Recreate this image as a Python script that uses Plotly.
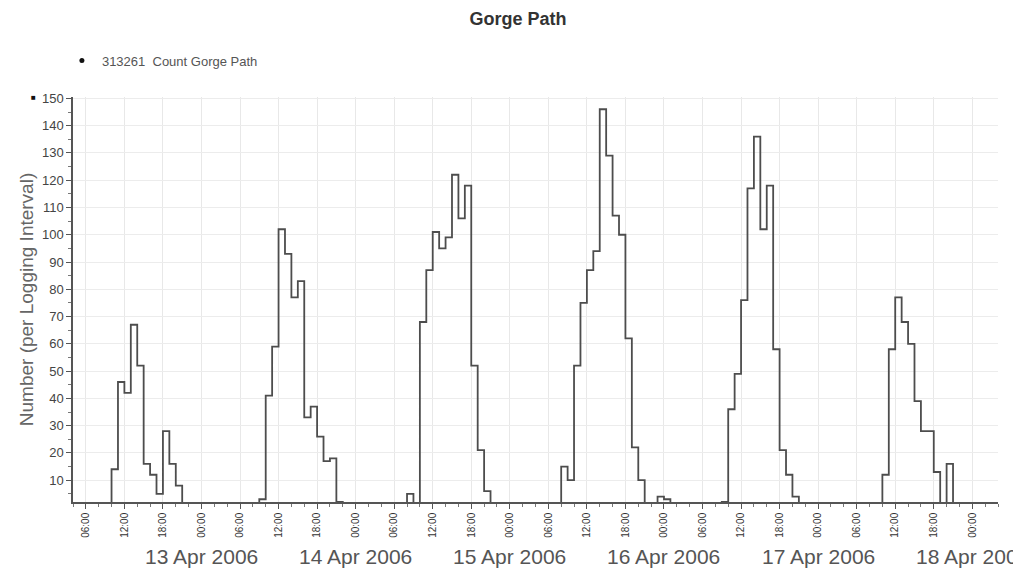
import plotly.graph_objects as go
import pandas as pd

# ---- data: hourly counts (value at start of each hour) ----
day_starts = ["2006-04-12", "2006-04-13", "2006-04-14", "2006-04-15", "2006-04-16", "2006-04-17"]
counts_apr12 = [0, 0, 0, 0, 0, 0, 0, 0, 0, 0, 14, 46, 42, 67, 52, 16, 12, 5, 28, 16, 8, 0, 0, 0]
counts_apr13 = [0, 0, 0, 0, 0, 0, 0, 0, 0, 3, 41, 59, 102, 93, 77, 83, 33, 37, 26, 17, 18, 2, 0, 0]
counts_apr14 = [0, 0, 0, 0, 0, 0, 0, 0, 5, 0, 68, 87, 101, 95, 99, 122, 106, 118, 52, 21, 6, 0, 0, 0]
counts_apr15 = [0, 0, 0, 0, 0, 0, 0, 0, 15, 10, 52, 75, 87, 94, 146, 129, 107, 100, 62, 22, 10, 0, 0, 4]
counts_apr16 = [3, 0, 0, 0, 0, 0, 0, 0, 1, 2, 36, 49, 76, 117, 136, 102, 118, 58, 21, 12, 4, 1, 0, 0]
counts_apr17 = [0, 0, 0, 0, 0, 0, 0, 0, 1, 1, 12, 58, 77, 68, 60, 39, 28, 28, 13, 0, 16, 0, 0, 0]
counts_apr18 = [0, 0, 0, 0, 0]

series_name = "313261  Count Gorge Path"
title_text = "Gorge Path"
y_title = "Number (per Logging Interval)"
y_ticks = [10, 20, 30, 40, 50, 60, 70, 80, 90, 100, 110, 120, 130, 140, 150]
y_minor = [5, 15, 25, 35, 45, 55, 65, 75, 85, 95, 105, 115, 125, 135, 145]
day_labels = ["13 Apr 2006", "14 Apr 2006", "15 Apr 2006", "16 Apr 2006", "17 Apr 2006", "18 Apr 2006"]
day_label_pos = ["2006-04-13", "2006-04-14", "2006-04-15", "2006-04-16", "2006-04-17", "2006-04-18"]

# build the hourly series
all_days = [counts_apr12, counts_apr13, counts_apr14, counts_apr15, counts_apr16, counts_apr17]
times, values = [], []
for d, vals in zip(day_starts, all_days):
    base = pd.Timestamp(d)
    for h, v in enumerate(vals):
        times.append(base + pd.Timedelta(hours=h))
        values.append(v)
base18 = pd.Timestamp("2006-04-18")
for h, v in enumerate(counts_apr18):
    times.append(base18 + pd.Timedelta(hours=h))
    values.append(v)
pairs = [(t, v) for t, v in zip(times, values) if t >= pd.Timestamp("2006-04-12 04:00")]
times = [p[0] for p in pairs]
values = [p[1] for p in pairs]

FONT = "Liberation Sans, Arial, sans-serif"
fig = go.Figure()
fig.add_trace(go.Scatter(
    x=times, y=values, mode="lines", line=dict(shape="hv", color="#4d4d4d", width=1.8),
    showlegend=False, hoverinfo="x+y"))
# legend entry
fig.add_trace(go.Scatter(
    x=[None], y=[None], mode="markers", name=series_name,
    marker=dict(symbol="circle", size=5, color="#111111")))

fig.update_layout(
    width=1013, height=572,
    paper_bgcolor="white", plot_bgcolor="white",
    margin=dict(l=73, r=15, t=97, b=70),
    title=dict(text="<b>" + title_text + "</b>", x=518 / 1013, xref="container", xanchor="center",
               y=1 - 19 / 572, yref="container", yanchor="middle",
               font=dict(family=FONT, size=18, color="#333333")),
    legend=dict(x=-0.012, y=1.09, xanchor="left", yanchor="middle", orientation="h",
                font=dict(family=FONT, size=13, color="#555555"), bgcolor="rgba(0,0,0,0)",
                itemwidth=30),
    font=dict(family=FONT, color="#333333"),
)
fig.update_xaxes(
    type="date", automargin=False,
    range=["2006-04-12 04:00", "2006-04-18 04:00"],
    tick0="2006-04-12 00:00", dtick=6 * 3600 * 1000, tickformat="%H:%M",
    tickangle=-90, tickfont=dict(family=FONT, size=10, color="#333333"),
    ticks="outside", ticklen=5, tickcolor="#555555",
    showline=True, linecolor="#555555", linewidth=1.5,
    showgrid=True, gridcolor="#e8e8e8", gridwidth=1,
    minor=dict(dtick=2 * 3600 * 1000, ticks="outside", ticklen=3, tickcolor="#777777", showgrid=False),
    zeroline=False,
)
fig.update_yaxes(
    automargin=False,
    range=[2.0, 150.5],
    tickvals=y_ticks, ticktext=[str(v) for v in y_ticks],
    tickfont=dict(family=FONT, size=13, color="#444444"),
    ticks="outside", ticklen=5, tickcolor="#555555",
    showline=True, linecolor="#555555", linewidth=1.5,
    showgrid=True, gridcolor="#ececec", gridwidth=1,
    minor=dict(tickvals=y_minor, ticks="outside", ticklen=3, tickcolor="#777777", showgrid=False),
    zeroline=False,
    title=dict(text=y_title, font=dict(family=FONT, size=19, color="#666666"), standoff=3),
)
for lbl, pos in zip(day_labels, day_label_pos):
    fig.add_annotation(x=pos, y=-0.134, xref="x", yref="paper", text=lbl, showarrow=False,
                       xanchor="center", yanchor="middle",
                       font=dict(family=FONT, size=21, color="#555555"))
fig.add_annotation(xref="paper", yref="paper", x=-0.043, y=1.0, text="■", showarrow=False,
                   xanchor="center", yanchor="middle", font=dict(family=FONT, size=8, color="#111111"))

fig.write_html("out.html", config={"displayModeBar": False},
               post_script="document.body.style.margin='0px';")
